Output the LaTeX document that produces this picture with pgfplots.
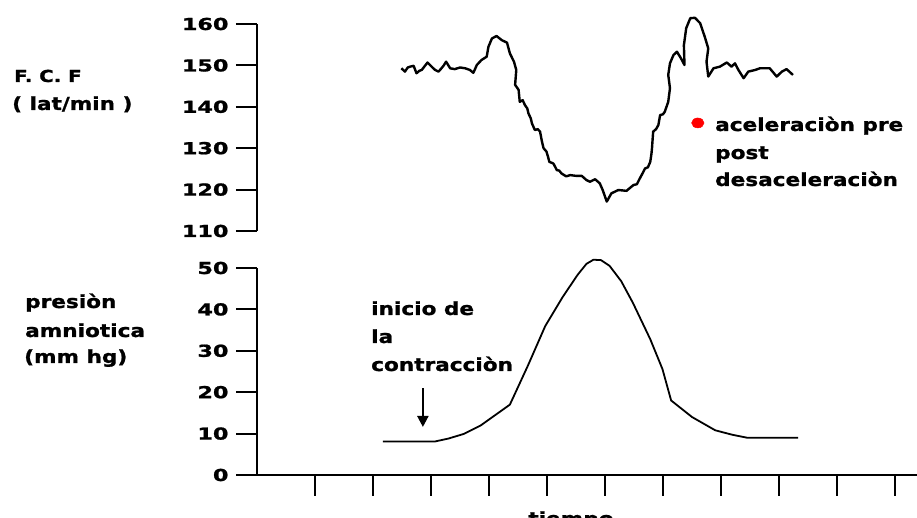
\documentclass[border=0pt]{standalone}
\usepackage{fontspec}
\setmainfont{DejaVu Sans}[FakeStretch=1.2]
\newfontfamily\labfont{DejaVu Sans Bold}[FakeStretch=1.2, FakeBold=1.2]
\newfontfamily\tickfont{DejaVu Sans Bold}[FakeStretch=1.35, FakeBold=1.2]
\usepackage{pgfplots}
\pgfplotsset{compat=1.18}
\usetikzlibrary{arrows.meta}
\newcommand{\lab}{\labfont\fontsize{18}{27.5}\selectfont}
\pgfplotsset{mystyle/.style={
  scale only axis, width=660pt, height=207pt,
  xmin=0, xmax=11.379,
  tick style={line width=2pt,black},
  major tick length=21pt,
  /pgf/number format/assume math mode=true,
  ticklabel style={font=\tickfont\fontsize{16.5}{18}\selectfont},
  yticklabel style={xshift=-4pt},
  clip=false
}}
\begin{document}
\begin{tikzpicture}
\path[use as bounding box] (0pt,0pt) rectangle (917pt,518pt);
% top axis: F.C.F
\begin{axis}[mystyle, at={(257pt,287pt)}, anchor=south west,
  ymin=110, ymax=160, ytick={110,120,...,160},
  axis x line=none, axis y line=left,
  axis line style={line width=2pt,-}, tick align=outside]
\addplot[black, line width=2.4pt, line join=round] coordinates {
(2.49,149.3)(2.55,148.5)(2.60,149.5)(2.64,149.7)(2.70,149.9)(2.75,148.1)(2.80,148.7)(2.84,148.9)
(2.89,149.8)(2.94,150.7)(3.01,149.7)(3.07,148.9)(3.13,148.5)(3.18,149.3)(3.22,150.0)(3.26,150.9)
(3.33,149.3)(3.41,149.1)(3.50,149.5)(3.59,149.3)(3.67,148.9)(3.73,148.2)(3.79,150.1)(3.87,151.3)
(3.96,152.1)(3.99,154.5)(4.05,156.5)(4.13,157.1)(4.22,156.1)(4.31,155.5)(4.36,152.9)(4.43,150.9)
(4.47,148.9)(4.45,145.3)(4.51,144.1)(4.53,141.2)(4.58,141.6)(4.62,140.4)(4.66,139.6)(4.68,138.4)
(4.72,137.2)(4.74,136.0)(4.79,134.4)(4.84,134.6)(4.88,134.0)(4.91,131.8)(4.94,130.0)(4.99,129.2)
(5.02,127.8)(5.04,126.7)(5.11,126.3)(5.17,124.7)(5.21,124.6)(5.25,123.9)(5.33,123.2)
(5.40,123.5)(5.51,123.3)(5.60,123.3)(5.68,122.3)(5.74,121.9)(5.83,122.5)(5.91,121.5)(5.96,119.9)
(6.03,117.1)(6.11,119.1)(6.23,119.9)(6.37,119.7)(6.49,121.1)(6.55,121.3)(6.60,122.7)(6.65,124.0)
(6.69,125.1)(6.74,125.4)(6.78,126.7)(6.80,128.6)(6.81,130.0)(6.83,134.0)(6.88,134.6)(6.92,135.6)
(6.95,138.0)(7.00,138.2)(7.03,138.8)(7.06,140.0)(7.09,141.2)(7.12,144.5)(7.09,147.7)
(7.12,150.5)(7.18,152.5)(7.24,153.3)(7.31,151.7)(7.37,150.1)(7.36,154.9)(7.40,159.0)(7.47,161.4)
(7.55,161.5)(7.64,160.2)(7.72,156.9)(7.78,154.1)(7.75,150.9)(7.78,147.3)(7.87,149.3)(7.98,149.7)
(8.10,150.7)(8.18,149.7)(8.24,150.5)(8.30,148.9)(8.39,146.9)(8.47,148.5)(8.59,148.9)(8.67,149.3)
(8.84,149.3)(8.96,147.3)(9.05,148.5)(9.13,149.1)(9.24,147.7)
};
\addplot[only marks, mark=*, mark size=5pt, color=red, mark options={xscale=1.25, fill=red, draw=red}]
  coordinates {(7.60,136.1)};
\end{axis}
% bottom axis: presion amniotica
\begin{axis}[mystyle, at={(257pt,43pt)}, anchor=south west,
  ymin=0, ymax=50, ytick={0,10,...,50},
  xtick={1,2,...,11}, xticklabels={},
  axis x line=bottom, axis y line=left,
  axis line style={line width=2pt,-}, tick align=outside]
\addplot[black, line width=1.8pt, line join=round] coordinates {
(2.17,8.1)(3.07,8.1)(3.30,8.8)(3.56,9.9)(3.86,12.0)(4.36,17.0)(4.67,26.4)(4.97,36.0)(5.27,43.0)
(5.53,48.4)(5.68,51.0)(5.80,52.0)(5.93,51.9)(6.08,50.5)(6.28,46.8)(6.48,41.6)(6.78,32.8)(6.99,25.6)
(7.14,18.0)(7.50,14.0)(7.90,10.8)(8.20,9.7)(8.45,9.0)(9.33,9.0)
};
\draw[line width=2.2pt, -{Triangle[length=11pt,width=11pt]}] (axis cs:2.86,21.0) -- (axis cs:2.86,11.6);
\end{axis}
% labels
\node[anchor=base west, inner sep=0, font=\labfont\fontsize{16.5}{18}\selectfont] at (14pt,436pt) {F. C. F};
\node[anchor=base west, inner sep=0, font=\lab] at (12pt,408pt) {( lat/min )};
\node[anchor=base west, inner sep=0, font=\lab] at (25pt,210pt) {presiòn};
\node[anchor=base west, inner sep=0, font=\lab] at (25pt,181pt) {amniotica};
\node[anchor=base west, inner sep=0, font=\lab] at (24pt,155pt) {(mm hg)};
\node[anchor=base west, inner sep=0, font=\lab] at (371pt,203pt) {inicio de};
\node[anchor=base west, inner sep=0, font=\lab] at (371pt,175pt) {la};
\node[anchor=base west, inner sep=0, font=\lab] at (371pt,147pt) {contracciòn};
\node[anchor=base west, inner sep=0, font=\lab] at (715pt,387pt) {aceleraciòn pre};
\node[anchor=base west, inner sep=0, font=\lab] at (715pt,359pt) {post};
\node[anchor=base west, inner sep=0, font=\lab] at (715pt,332pt) {desaceleraciòn};
\node[anchor=base, inner sep=0, font=\lab] at (571pt,-7pt) {tiempo};
\end{tikzpicture}
\end{document}
